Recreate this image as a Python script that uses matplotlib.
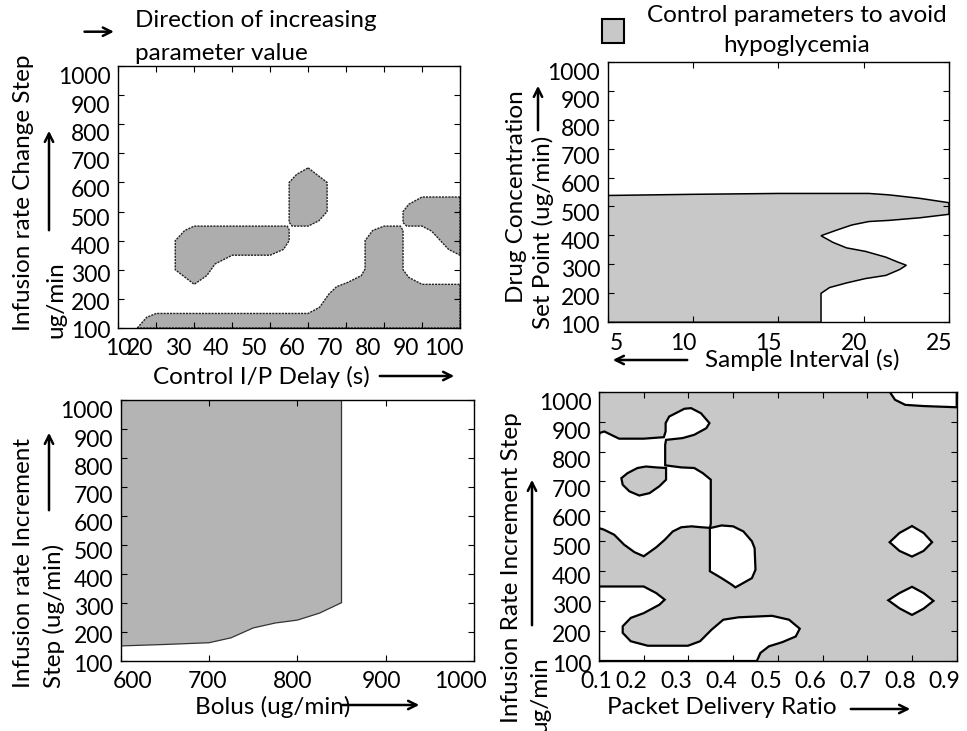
import matplotlib
matplotlib.use("Agg")
import matplotlib.pyplot as plt
from matplotlib.patches import Rectangle, FancyArrowPatch
from matplotlib.transforms import ScaledTranslation

plt.rcParams['font.family'] = ['Lato', 'DejaVu Sans']
FS = 17.5      # labels / notes
TFS = 16.5     # tick labels

W, H = 967, 731

# ---- panel 1: Control I/P Delay vs Infusion rate Change Step ----
p1_xticks = [10, 20, 30, 40, 50, 60, 70, 80, 90, 100]
p1_yticks = [100, 200, 300, 400, 500, 600, 700, 800, 900, 1000]
p1_a_x = [30, 54.5, 55, 55, 53.5, 50, 40, 35.5, 33.3, 30, 25, 25, 27.5]
p1_a_y = [450, 450, 437, 400, 370, 350, 350, 320, 280, 250, 300, 400, 435]
p1_b_x = [60, 65, 65, 62.8, 60, 55.8, 55, 55, 57]
p1_b_y = [650, 600, 500, 468, 450, 450, 463, 600, 628]
p1_c_x = [15, 17.5, 20, 60, 63, 65.5, 67.5, 70.5, 74, 75, 75, 77, 80, 84.3,
          85, 85, 86.5, 90, 100, 100]
p1_c_y = [100, 137, 150, 150, 171, 217, 242, 257, 280, 303, 400, 435, 450, 450,
          435, 300, 274, 250, 250, 100]
p1_d_x = [100, 90, 86.5, 85, 85, 86, 90, 92.5, 94.5, 97, 100]
p1_d_y = [550, 550, 525, 500, 462, 450, 450, 433, 405, 370, 350]

# ---- panel 2: Sample Interval vs Drug Concentration Set Point ----
p2_xticks = [5, 10, 15, 20, 25]
p2_yticks = [100, 200, 300, 400, 500, 600, 700, 800, 900, 1000]
p2_x = [5, 5, 10, 15, 20.3, 21.5, 23.3, 25, 25, 23.3, 21.5, 20.3, 19.3, 18.4,
        17.5, 18.2, 19, 20.1, 21.3, 22, 22.5, 22.1, 21.3, 20.1, 19, 18, 17.5, 17.5]
p2_y = [100, 538, 542, 545, 545, 540, 528, 513, 473, 461, 452, 448, 436, 418,
        399, 376, 357, 345, 325, 308, 297, 282, 262, 251, 236, 220, 200, 100]

# ---- panel 3: Bolus vs Infusion rate Increment Step ----
p3_xticks = [600, 700, 800, 900, 1000]
p3_yticks = [100, 200, 300, 400, 500, 600, 700, 800, 900, 1000]
p3_x = [600, 850, 850, 825, 800, 775, 750, 725, 700, 650, 600]
p3_y = [1000, 1000, 301, 265, 241, 231, 214, 180, 163, 157, 152]

# ---- panel 4: Packet Delivery Ratio vs Infusion Rate Increment Step ----
p4_xticks = [0.1, 0.2, 0.3, 0.4, 0.5, 0.6, 0.7, 0.8, 0.9]
p4_yticks = [100, 200, 300, 400, 500, 600, 700, 800, 900, 1000]
# white (unsafe) holes
p4_w1_x = [0.1, 0.1, 0.101, 0.112, 0.127, 0.145, 0.2, 0.245, 0.249, 0.249, 0.257,
           0.291, 0.306, 0.328, 0.347, 0.34, 0.313, 0.287, 0.25, 0.248, 0.248,
           0.284, 0.313, 0.332, 0.35, 0.35, 0.348, 0.329, 0.307, 0.284, 0.265,
           0.247, 0.228, 0.2, 0.179, 0.156, 0.134, 0.111]
p4_w1_y = [544, 850, 862, 867, 856, 843, 843, 848, 867, 895, 917, 943, 945, 928,
           895, 878, 856, 845, 839, 823, 754, 747, 745, 728, 706, 558, 545, 547,
           550, 547, 533, 505, 480, 450, 464, 489, 522, 539]
p4_w2_x = [0.348, 0.374, 0.4, 0.423, 0.442, 0.448, 0.45, 0.442, 0.423, 0.405,
           0.397, 0.374, 0.348]
p4_w2_y = [544, 553, 550, 533, 500, 477, 405, 377, 361, 346, 355, 377, 400]
p4_w3_x = [0.1, 0.2, 0.228, 0.247, 0.235, 0.2, 0.171, 0.153, 0.153, 0.171, 0.209,
           0.299, 0.326, 0.352, 0.378, 0.412, 0.487, 0.525, 0.549, 0.54, 0.51,
           0.48, 0.461, 0.453, 0.1]
p4_w3_y = [349, 349, 327, 305, 288, 260, 244, 216, 194, 166, 151, 151, 166, 205,
           238, 246, 251, 238, 208, 182, 163, 149, 127, 100, 100]
p4_w4_x = [0.75, 0.762, 0.785, 0.826, 0.9, 0.9]
p4_w4_y = [1000, 973, 956, 952, 948, 1000]
p4_w5_x = [0.8, 0.826, 0.845, 0.826, 0.8, 0.772, 0.75, 0.772]
p4_w5_y = [551, 528, 497, 468, 449, 468, 497, 528]
p4_w6_x = [0.8, 0.826, 0.848, 0.826, 0.8, 0.772, 0.747, 0.772]
p4_w6_y = [348, 327, 301, 275, 254, 276, 303, 327]
# grey island inside the big hole
p4_g1_x = [0.25, 0.25, 0.235, 0.213, 0.19, 0.168, 0.153, 0.15, 0.164, 0.186,
           0.205, 0.228]
p4_g1_y = [745, 706, 684, 661, 653, 667, 689, 711, 728, 745, 750, 747]


def fx(px):
    return px / W


def fy(py):
    return 1 - py / H


def setup(ax, xlim, xticks, ylim, yticks, xshift):
    ax.set_xlim(*xlim)
    ax.set_ylim(*ylim)
    ax.set_xticks(xticks)
    ax.set_yticks(yticks)
    ax.set_xticklabels([('%g' % v) for v in xticks])
    ax.tick_params(direction='in', top=True, right=True, length=4, width=0.8,
                   labelsize=TFS)
    ax.tick_params(axis='x', pad=7.5)
    ax.tick_params(axis='y', pad=5.5)
    for s in ax.spines.values():
        s.set_linewidth(1.0)
    # the original tick labels sit a bit off their ticks
    for lab, dx in zip(ax.get_xticklabels(), xshift):
        lab.set_transform(lab.get_transform() +
                          ScaledTranslation(dx / 100, 0, fig.dpi_scale_trans))
    n = len(yticks)
    for i, lab in enumerate(ax.get_yticklabels()):
        dy = -(2 + 8 * i / (n - 1))
        lab.set_transform(lab.get_transform() +
                          ScaledTranslation(0, dy / 100, fig.dpi_scale_trans))


def arrow(x0, y0, x1, y1):
    fig.add_artist(FancyArrowPatch(
        (fx(x0), fy(y0)), (fx(x1), fy(y1)), transform=fig.transFigure,
        arrowstyle='->', mutation_scale=15, lw=1.8, color='black'))


def vtext(x, y, s):
    fig.text(fx(x), fy(y), s, rotation=90, ha='center', va='center',
             fontsize=FS)


fig = plt.figure(figsize=(W / 100, H / 100), dpi=100)

# panel 1
ax1 = fig.add_axes([fx(118.3), fy(328), (460 - 118.3) / W, (328 - 66) / H])
setup(ax1, (10, 100), p1_xticks, (100, 1000), p1_yticks, [0] + [-16] * 9)
for xs, ys in [(p1_a_x, p1_a_y), (p1_b_x, p1_b_y), (p1_c_x, p1_c_y), (p1_d_x, p1_d_y)]:
    ax1.fill(xs, ys, facecolor='#adadad', edgecolor='#222222', lw=1.0,
             linestyle=(0, (1.5, 0.8)))

# panel 2
ax2 = fig.add_axes([fx(607.7), fy(322.3), (949 - 607.7) / W, (322.3 - 61.7) / H])
setup(ax2, (5, 25), p2_xticks, (100, 1000), p2_yticks, [9] + [-10] * 4)
ax2.fill(p2_x, p2_y, facecolor='#c8c8c8', edgecolor='black', lw=1.1)

# panel 3
ax3 = fig.add_axes([fx(120.7), fy(661), (474 - 120.7) / W, (661 - 400) / H])
setup(ax3, (600, 1000), p3_xticks, (100, 1000), p3_yticks, [12, -2, -5, -4, -14])
ax3.fill(p3_x, p3_y, facecolor='#b4b4b4', edgecolor='#333333', lw=0.9)

# panel 4
ax4 = fig.add_axes([fx(599), fy(661), (956.7 - 599) / W, (661 - 391.7) / H])
setup(ax4, (0.1, 0.9), p4_xticks, (100, 1000), p4_yticks, [-3] + [-12] * 8)
ax4.set_facecolor('#c8c8c8')
for xs, ys in [(p4_w1_x, p4_w1_y), (p4_w2_x, p4_w2_y), (p4_w3_x, p4_w3_y),
               (p4_w4_x, p4_w4_y), (p4_w5_x, p4_w5_y), (p4_w6_x, p4_w6_y)]:
    ax4.fill(xs, ys, facecolor='white', edgecolor='black', lw=1.6)
ax4.fill(p4_g1_x, p4_g1_y, facecolor='#c8c8c8', edgecolor='black', lw=1.6)

# axis labels
fig.text(fx(261), fy(377), 'Control I/P Delay (s)', ha='center', va='center', fontsize=FS)
arrow(377, 376, 457, 376)
vtext(24, 193, 'Infusion rate Change Step')
vtext(56, 300, 'ug/min')
arrow(49, 233, 49, 128)

fig.text(fx(802), fy(360), 'Sample Interval (s)', ha='center', va='center', fontsize=FS)
arrow(690, 360, 610, 360)
vtext(516.7, 197, 'Drug Concentration')
vtext(543, 232, 'Set Point (ug/min)')
arrow(538, 133, 538, 83)

fig.text(fx(272.5), fy(707), 'Bolus (ug/min)', ha='center', va='center', fontsize=FS)
arrow(340, 705, 422, 705)
vtext(23.3, 563, 'Infusion rate Increment')
vtext(54, 616, 'Step (ug/min)')
arrow(49, 513, 49, 430)

fig.text(fx(721.7), fy(707), 'Packet Delivery Ratio', ha='center', va='center', fontsize=FS)
arrow(848, 709, 913, 709)
vtext(511, 568, 'Infusion Rate Increment Step')
vtext(540, 695, 'ug/min')
arrow(532, 628, 532, 477)

# top notes
arrow(81.7, 31.7, 116.7, 31.7)
fig.text(fx(135), fy(20.7), 'Direction of increasing', ha='left', va='center', fontsize=FS)
fig.text(fx(135), fy(53), 'parameter value', ha='left', va='center', fontsize=FS)

fig.add_artist(Rectangle((fx(601.7), fy(43.3)), 22.3 / W, 24 / H,
                         transform=fig.transFigure, facecolor='#c8c8c8',
                         edgecolor='black', lw=1.5))
fig.text(fx(796.7), fy(15), 'Control parameters to avoid', ha='center', va='center', fontsize=FS)
fig.text(fx(796.7), fy(45), 'hypoglycemia', ha='center', va='center', fontsize=FS)

fig.savefig('out.png', dpi=100)
